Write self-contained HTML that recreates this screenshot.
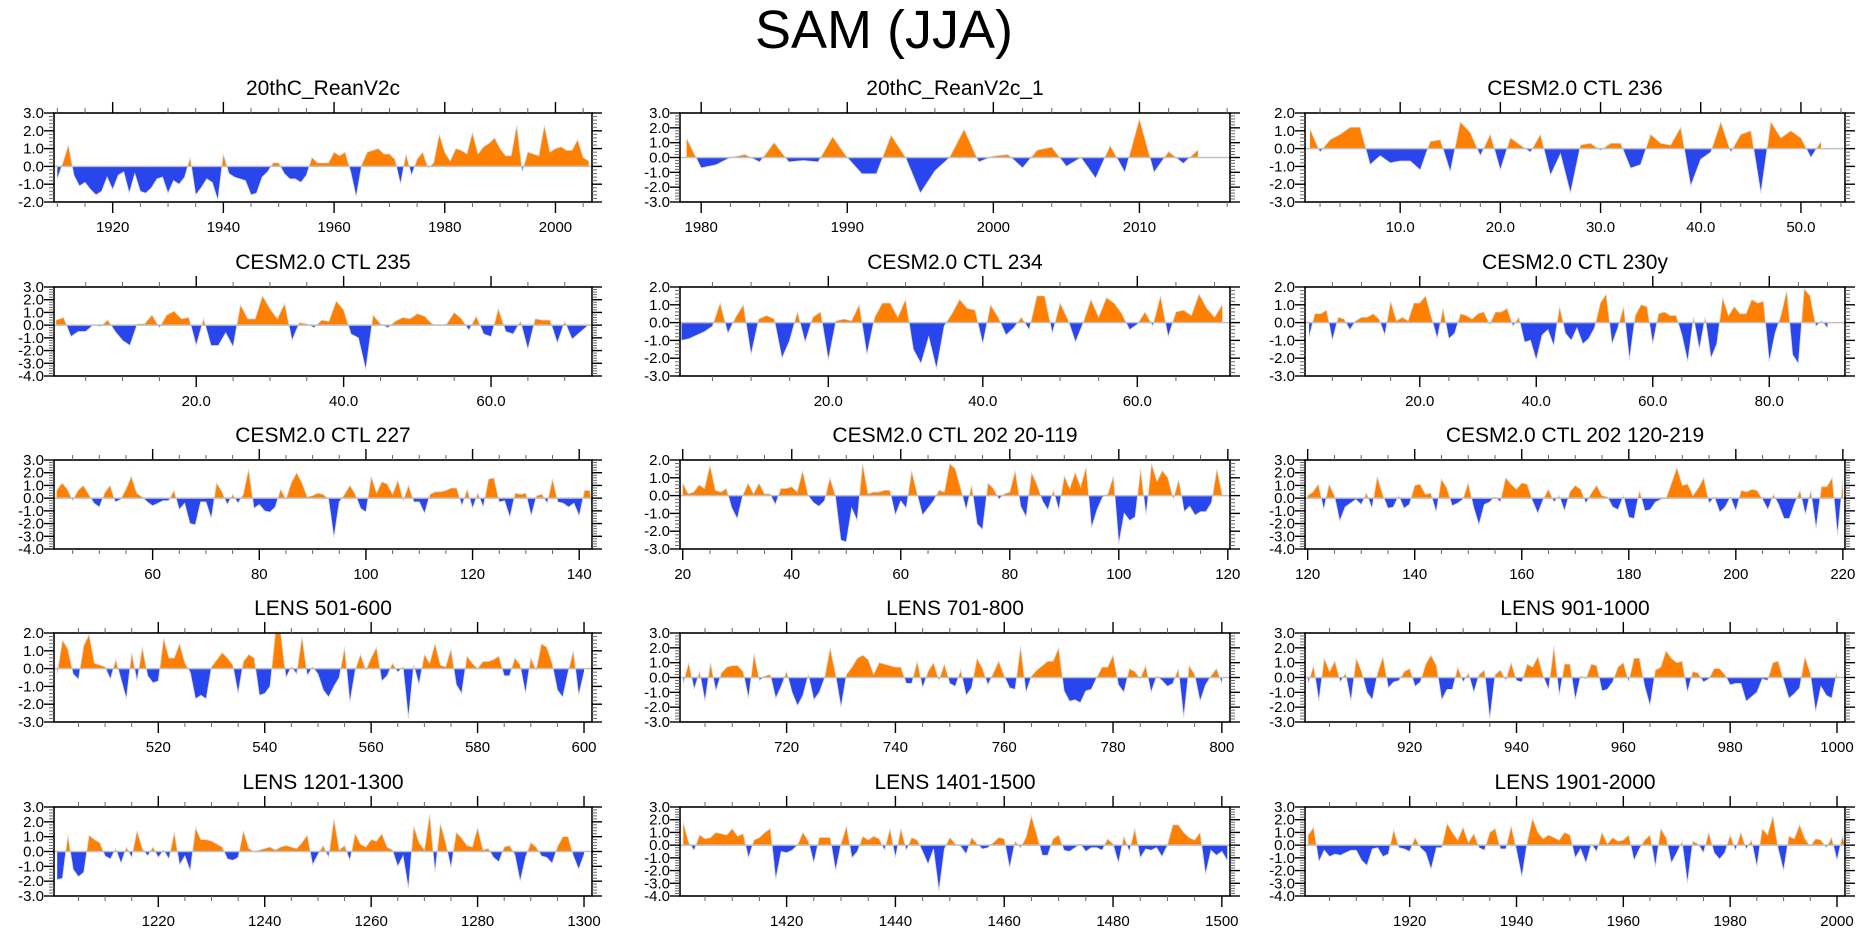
<!DOCTYPE html>
<html><head><meta charset="utf-8"><title>SAM (JJA)</title>
<style>
html,body{margin:0;padding:0;background:#fff;}
svg{display:block;font-family:"Liberation Sans",Arial,sans-serif;}
</style></head>
<body>
<svg id="chart" width="1861" height="936" viewBox="0 0 1861 936" xmlns="http://www.w3.org/2000/svg">
<rect x="0" y="0" width="1861" height="936" fill="#fff"/>
<text x="884" y="48" font-size="54" text-anchor="middle" fill="#000">SAM (JJA)</text>
</svg>
<script>
// ---- data: one array per panel (values), first x value per panel ----
const titles = ["20thC_ReanV2c","20thC_ReanV2c_1","CESM2.0 CTL 236","CESM2.0 CTL 235","CESM2.0 CTL 234","CESM2.0 CTL 230y","CESM2.0 CTL 227","CESM2.0 CTL 202 20-119","CESM2.0 CTL 202 120-219","LENS 501-600","LENS 701-800","LENS 901-1000","LENS 1201-1300","LENS 1401-1500","LENS 1901-2000"];
const xStarts = [1910,1979,1,1,1,1,42,20,120,501,701,901,1201,1401,1901];
const xMins = [1909.4,1978.55,0.5,0.7,0.8,0.3,41.5,19.5,119.5,500.4,700.4,900.4,1200.4,1400.4,1900.4];
const xMaxs = [2006.6,2016.2,54.4,73.7,72,93,142.4,120.4,220.4,601.5,801.5,1001.5,1301.5,1501.5,2001.5];
const yMins = [-2,-3,-3,-4,-3,-3,-4,-3,-4,-3,-3,-3,-3,-4,-4];
const yMaxs = [3,3,2,3,2,2,3,2,3,2,3,3,3,3,3];
const xTickStep = [20,10,10,20,20,20,20,20,20,20,20,20,20,20,20];
const xMinorStep = [5,2,2,5,5,5,5,5,5,5,5,5,5,5,5];
const xTickDecimals = [0,0,1,1,1,1,0,0,0,0,0,0,0,0,0];

const v0 = [-0.7,0.2,1.2,-0.5,-1.1,-0.9,-1.3,-1.6,-1.4,-0.6,-1.3,-0.5,-0.3,-1.5,-0.4,-1.4,-1.5,-1.2,-0.7,-0.6,-1.5,-0.8,-1.0,-0.6,0.5,-1.6,-1.2,-0.7,-0.9,-1.9,0.7,-0.4,-0.6,-0.7,-0.8,-1.6,-1.5,-0.6,-0.3,0.2,0.2,-0.4,-0.7,-0.7,-0.9,-0.5,0.5,0.2,0.2,0.2,0.8,0.6,0.8,-0.3,-1.7,0.1,0.8,0.9,1.0,0.7,0.7,0.4,-1.0,0.7,-0.5,0.4,0.8,-0.1,0.2,1.8,0.8,0.3,1.0,0.9,0.7,1.9,0.7,1.1,1.3,1.6,1.0,0.6,0.6,2.3,-0.3,0.8,0.7,0.6,2.3,0.8,1.0,1.1,0.9,0.9,1.5,0.5,0.3];
const v1 = [1.3,-0.7,-0.5,0.0,0.2,-0.3,1.0,-0.3,-0.2,-0.3,1.4,0.0,-1.1,-1.1,1.5,0.0,-2.4,-0.9,0.0,1.9,-0.3,0.1,0.2,-0.7,0.5,0.7,-0.6,0.0,-1.4,0.8,-1.0,2.6,-1.0,0.4,-0.4,0.5];
const v2 = [1.1,-0.2,0.5,0.8,1.2,1.2,-0.9,-0.4,-0.8,-0.7,-0.7,-1.2,0.4,0.5,-1.3,1.5,0.9,-0.4,0.8,-1.2,0.6,0.2,-0.2,0.8,-1.5,-0.3,-2.5,0.2,0.3,-0.1,0.3,0.3,-1.1,-0.9,0.8,0.3,0.2,1.2,-2.1,-0.6,-0.2,1.5,-0.2,0.8,1.0,-2.5,1.5,0.6,1.0,0.6,-0.5,0.4];
const v3 = [0.4,0.6,-0.9,-0.5,-0.5,0.0,-0.1,0.4,-0.5,-1.2,-1.6,0.1,0.1,0.8,-0.2,0.8,1.1,0.5,0.6,-1.6,0.5,-1.6,-1.6,-0.6,-1.7,1.6,0.5,0.5,2.3,1.3,0.5,1.7,-1.2,0.2,0.1,-0.2,0.4,0.3,1.9,1.2,-0.7,-1.0,-3.5,0.8,0.1,-0.2,0.3,0.6,0.5,0.9,0.7,0.1,-0.05,0.1,1.0,0.5,-0.4,0.7,-0.7,-0.9,1.3,-0.5,-0.7,0.3,-1.9,0.5,0.4,0.4,-1.4,0.3,-1.1,-0.6,-0.1];
const v4 = [-1.0,-0.9,-0.7,-0.5,-0.2,1.1,-0.6,0.3,1.0,-1.8,0.2,0.4,0.2,-2.0,-1.0,0.6,-1.1,0.3,0.6,-2.1,0.1,0.2,0.1,1.0,-1.8,0.3,1.1,1.1,0.3,1.3,-1.5,-2.3,-0.8,-2.6,-0.2,0.5,1.3,0.8,0.7,-1.2,1.0,0.3,-0.7,-0.3,0.3,-0.4,1.5,1.5,-0.6,1.1,0.2,-1.1,0.0,1.3,0.3,1.4,1.1,0.5,-0.4,-0.1,0.6,-0.2,1.5,-0.8,0.6,0.7,0.4,1.6,0.8,0.3,1.0];
const v5 = [-0.8,0.5,0.5,0.7,-1.0,0.3,0.2,-0.4,0.1,0.3,0.3,0.5,0.2,-0.7,1.2,0.1,0.3,0.1,1.1,1.1,1.5,0.3,-0.9,0.8,-0.9,-0.6,0.5,0.4,0.2,0.5,0.6,-0.1,0.6,0.6,0.8,-0.2,0.3,-1.1,-1.0,-2.1,-0.7,-0.4,-1.3,0.9,-0.6,-1.0,-0.3,-1.2,-0.9,-0.3,1.1,1.6,-1.2,-0.3,0.9,-2.1,0.4,1.0,0.9,-1.2,0.5,0.6,0.4,0.4,-0.7,-2.2,0.3,-1.5,0.3,-2.0,-1.2,1.4,0.4,0.9,0.5,0.5,1.3,1.1,1.2,-2.2,-0.6,0.4,1.8,-1.8,-2.3,1.9,1.5,-0.2,0.1,-0.3];
const v6 = [0.6,1.2,0.7,-0.2,0.6,1.0,0.3,-0.4,-0.7,0.4,1.0,-0.3,-0.1,0.7,1.7,0.4,0.1,-0.3,-0.6,-0.4,-0.2,-0.2,0.6,-0.9,-0.4,-2.0,-2.1,-0.3,-0.3,-1.6,1.2,0.5,-0.5,0.3,-0.4,0.3,2.3,-0.8,-0.5,-1.0,-1.1,-0.7,0.7,-0.1,1.2,2.0,1.2,0.1,0.2,0.4,0.3,-0.1,-3.1,-0.3,0.3,1.0,0.3,-0.8,-1.1,1.7,0.4,1.3,1.1,0.3,1.4,-0.2,1.0,-0.3,-0.3,-1.2,0.3,0.5,0.5,0.6,0.8,0.8,-0.6,0.7,-0.8,0.4,-0.7,1.5,1.6,-0.3,-0.2,-1.5,0.4,0.3,0.4,-1.4,0.2,0.3,-0.4,1.5,-0.3,-0.4,-0.7,-0.4,-1.4,0.6,0.6,-3.3,0.2,-1.0,0.6,1.0,-0.1];
const v7 = [0.7,0.1,0.2,0.6,0.4,1.7,0.3,0.2,0.4,-0.7,-1.3,0.0,0.7,0.1,0.7,0.1,0.1,-0.5,0.4,0.4,0.5,0.2,1.4,0.0,-0.4,-0.6,-0.3,1.0,0.0,-2.5,-2.6,-0.7,-1.4,1.8,0.1,0.2,0.2,0.3,0.3,-1.1,-0.3,-0.7,1.4,0.1,-1.1,-0.7,-0.3,0.3,0.2,1.8,1.5,0.4,-0.8,0.6,-1.6,-1.9,0.7,0.4,-0.2,0.1,0.2,1.4,-0.6,-1.2,1.3,0.6,-0.3,-0.8,0.3,-0.8,1.1,0.4,1.3,0.5,1.6,-1.8,-0.8,-0.1,0.1,1.1,-2.7,-1.0,-1.4,-1.2,1.5,-1.1,1.8,0.8,1.4,1.0,-0.2,0.9,-0.9,-0.6,-1.1,-0.9,-0.9,-0.4,1.5,0.0];
const v8 = [0.2,0.5,1.1,-0.9,1.1,0.2,-1.8,-0.7,-0.4,-0.1,-0.5,0.4,-0.8,1.7,0.3,-0.8,-0.7,0.2,-0.8,-0.5,1.0,1.1,0.3,0.4,-1.1,1.5,0.8,-0.6,-0.4,-0.1,1.2,-0.7,-2.1,-0.5,-0.3,0.1,-0.3,1.6,1.1,0.7,1.2,1.1,-0.2,-1.2,-0.1,0.7,-0.3,0.2,-1.0,0.5,1.0,0.7,-0.4,0.4,1.0,0.2,0.1,-0.7,-0.9,0.2,-1.5,-1.6,0.6,-1.0,-0.9,-0.3,-0.1,0.0,1.2,2.4,1.0,1.1,0.2,0.8,1.6,-0.4,0.1,-1.1,-0.7,0.1,-1.0,0.6,0.5,0.7,0.6,-0.1,-0.9,0.3,-0.5,-1.6,-1.6,-0.4,0.6,-1.3,0.6,-2.4,0.9,0.9,1.6,-2.9,1.4];
const v9 = [-0.3,1.6,1.1,-0.3,-0.6,1.3,1.9,0.3,0.2,0.1,-0.6,0.5,-0.6,-1.7,0.9,-0.7,1.2,-0.4,-0.8,-0.7,1.7,0.6,0.6,1.4,0.3,-0.2,-1.7,-1.5,-1.7,0.1,0.5,0.9,0.6,0.2,-1.4,0.4,0.8,0.6,-1.5,-1.4,-1.0,2.0,2.0,-0.5,0.1,-0.3,1.8,-0.4,0.1,-0.3,-1.2,-1.6,-1.0,-0.5,1.2,-1.9,-0.1,0.8,-0.1,0.6,1.2,-0.7,-0.4,0.3,-0.2,0.1,-2.8,0.2,-0.9,0.8,0.3,1.4,0.2,0.1,1.1,-0.9,-1.4,0.7,0.3,0.0,0.4,0.4,0.5,0.7,-0.4,-0.4,0.6,0.2,-1.4,0.6,-0.1,1.4,1.2,0.3,-1.2,-1.6,-0.2,1.0,-1.5,-0.2];
const v10 = [-0.4,1.0,-0.8,0.4,-1.6,1.0,-0.9,0.3,0.7,0.8,0.8,0.4,-1.4,1.6,-0.2,0.1,0.2,-1.4,-0.6,0.4,-1.0,-1.9,-1.2,0.2,-1.5,-1.0,0.0,2.0,0.2,-2.0,0.2,0.7,1.3,1.5,1.2,0.2,1.0,0.9,0.8,0.7,0.7,-0.4,-0.4,1.1,-0.7,0.4,1.0,-0.2,0.9,-0.4,-0.6,0.5,-1.2,-0.7,1.3,0.6,-0.5,0.3,1.1,0.1,-0.7,-0.8,2.1,-1.0,0.1,0.5,0.8,1.1,1.1,2.0,-0.9,-1.6,-1.5,-1.7,-0.9,-0.8,0.0,0.7,0.7,1.5,-0.5,-1.0,0.6,0.4,-0.1,0.8,-1.0,0.1,-0.2,-0.6,-0.4,0.6,-2.7,0.8,0.2,-1.6,-0.5,0.1,0.6,-0.4];
const v11 = [-0.4,0.8,-1.6,1.3,0.4,1.1,-0.3,0.3,-1.6,1.3,0.4,-1.0,-1.5,0.3,1.4,-0.7,-0.3,-0.2,0.4,0.6,-0.6,-0.3,0.9,1.5,0.8,-1.5,-0.8,-0.8,0.7,-0.3,0.3,-1.0,0.2,0.5,-2.8,0.2,0.5,-0.2,1.0,-0.2,-0.3,0.9,0.7,1.4,0.1,-0.8,2.1,-1.2,0.9,0.9,-1.5,0.1,-0.1,0.9,0.8,-0.9,-0.8,-0.3,0.7,1.0,-0.3,1.3,1.3,-0.6,-1.9,0.5,0.7,1.8,1.3,1.0,1.1,-1.0,0.4,0.3,-0.3,-0.1,0.6,0.6,0.2,-0.5,-0.4,-0.4,-1.6,-1.3,-1.0,-0.1,-0.2,1.0,1.1,-0.2,-1.4,-1.1,-0.7,1.4,0.3,-2.3,-0.6,-1.2,-1.4,0.4];
const v12 = [-1.9,-1.8,1.1,-1.2,-1.7,-1.4,1.1,0.8,0.6,-0.3,-0.5,0.2,-0.8,0.3,-0.4,1.4,0.2,-0.3,0.3,-0.4,0.1,-0.5,1.3,-0.9,-0.3,-1.3,1.6,0.8,0.8,0.7,0.5,0.3,-0.5,-0.6,-0.4,1.4,0.2,0.0,0.1,0.2,0.3,0.1,0.3,0.4,0.3,0.2,0.6,1.1,-0.9,-0.2,0.4,-0.4,2.2,0.1,0.4,-0.6,1.2,0.5,0.3,0.8,0.7,1.2,0.3,0.1,-1.0,-0.3,-2.5,1.7,0.6,0.1,2.5,-1.4,1.9,0.6,-1.1,1.3,0.9,0.4,0.3,1.6,0.1,0.2,-0.4,-0.7,0.3,0.4,-0.2,-2.0,-0.4,0.6,0.3,-0.3,-0.4,-0.8,0.3,1.0,1.0,-0.3,-1.2,-0.2];
const v13 = [1.8,0.2,-0.4,0.8,0.5,0.6,1.0,0.9,0.8,1.3,0.7,0.9,-1.0,0.4,0.6,1.0,1.3,-2.7,-0.5,-0.6,-0.4,0.0,1.0,0.3,-1.4,0.6,0.6,0.6,-2.0,0.1,1.5,-1.0,-0.5,0.7,0.4,0.7,0.5,-0.4,1.3,-1.0,1.3,-0.4,0.6,0.4,-0.5,-1.5,-0.3,-3.6,-0.3,0.6,0.1,-0.1,-0.7,0.6,0.1,-0.3,-0.2,0.2,0.6,0.5,-1.8,0.3,-0.2,0.6,2.3,0.8,-0.8,-0.8,0.5,0.8,-0.4,-0.5,-0.2,0.1,-0.5,-0.2,-0.2,-0.4,0.5,0.1,-1.4,0.7,-0.5,1.3,-1.0,-0.3,-0.4,-0.2,-0.9,0.0,1.6,1.6,1.0,0.6,0.4,1.0,-2.3,-0.4,-0.8,-0.5,-1.2];
const v14 = [0.8,1.4,-1.3,-0.4,-0.9,-0.7,-0.8,-0.6,-0.4,-0.4,-1.2,-1.6,-0.3,-0.2,-0.9,-0.7,1.2,-0.2,-0.3,-0.5,0.6,-0.2,-0.6,-1.9,-0.2,-0.2,1.7,1.0,0.4,1.4,0.2,0.9,-0.2,-0.4,1.0,1.3,-0.3,-0.3,1.5,-0.4,-2.5,0.2,2.1,1.0,0.5,0.8,0.6,0.4,1.0,0.8,-1.0,-0.3,-1.4,0.1,-0.5,1.0,0.1,0.6,0.3,0.4,0.8,-1.2,-0.3,0.4,0.8,-1.7,1.3,0.6,-1.4,-0.6,0.3,-3.0,0.3,0.1,-0.6,1.0,-0.6,-1.1,-0.6,0.8,-0.4,1.0,-0.3,0.4,-1.7,1.3,0.8,2.3,-0.3,-2.0,0.7,0.5,1.6,0.5,-0.1,0.5,0.4,-0.2,0.6,-1.2,0.7,-0.6];
const seriesValues = [v0,v1,v2,v3,v4,v5,v6,v7,v8,v9,v10,v11,v12,v13,v14];

// ---- layout ----
const colL = [54,680,1305], colR = [592,1230,1845];
const rowT = [113,287,460,633,807];
const boxH = 89;
const NS = "http://www.w3.org/2000/svg";
const svg = document.getElementById("chart");
function mk(tag, attrs, parent){ const e=document.createElementNS(NS,tag); for(const k in attrs) e.setAttribute(k,attrs[k]); (parent||svg).appendChild(e); return e; }
const defs = mk("defs",{});

for (let p=0;p<15;p++){
  const r=Math.floor(p/3), c=p%3;
  const L=colL[c], R=colR[c], T=rowT[r], B=T+boxH;
  const xmin=xMins[p], xmax=xMaxs[p], ymin=yMins[p], ymax=yMaxs[p];
  const sx = x => L + (x-xmin)/(xmax-xmin)*(R-L);
  const sy = y => B - (y-ymin)/(ymax-ymin)*(B-T);
  const g = mk("g",{});
  
  
  const cp = mk("clipPath",{id:"cp"+p},defs);
  mk("rect",{x:L,y:T,width:R-L,height:B-T},cp);

  const t = mk("text",{x:(L+R)/2,y:T-18,"font-size":21,"text-anchor":"middle",fill:"#000"},g);
  t.textContent = titles[p];
  
  

  const vals = seriesValues[p], x0 = xStarts[p];
  const pts = vals.map((v,i)=>[x0+i, v]);
  const y0 = sy(0);
  const posPts=[], negPts=[];
  for (let i=0;i<pts.length;i++){
    const [x,v]=pts[i];
    if (i>0){
      const [xp,vp]=pts[i-1];
      if ((vp>0&&v<0)||(vp<0&&v>0)){
        const xc = xp + (x-xp)*vp/(vp-v);
        posPts.push([xc,0]); negPts.push([xc,0]);
      }
    }
    posPts.push([x,Math.max(v,0)]); negPts.push([x,Math.min(v,0)]);
  }
  const toPath = arr => { let d="M"+sx(arr[0][0]).toFixed(2)+","+y0.toFixed(2); arr.forEach(q=>{d+="L"+sx(q[0]).toFixed(2)+","+sy(q[1]).toFixed(2);}); d+="L"+sx(arr[arr.length-1][0]).toFixed(2)+","+y0.toFixed(2)+"Z"; return d; };
  const fp = mk("path",{d:toPath(posPts),fill:"#ff8000","clip-path":"url(#cp"+p+")"},g);
  
  
  const fn = mk("path",{d:toPath(negPts),fill:"#2946ee","clip-path":"url(#cp"+p+")"},g);
  
  
  let d=""; pts.forEach((q,i)=>{d+=(i?"L":"M")+sx(q[0]).toFixed(2)+","+sy(q[1]).toFixed(2);});
  mk("path",{d:d,fill:"none",stroke:"#d8d8d8","stroke-width":0.8,"clip-path":"url(#cp"+p+")"},g);
  const zl = mk("line",{x1:L,x2:R,y1:y0,y2:y0,stroke:"#c0c0c0","stroke-width":1.5},g);
  
  

  const bx = mk("rect",{x:L,y:T,width:R-L,height:B-T,fill:"none",stroke:"#000","stroke-width":1.6},g);
  
  

  for (let yv=ymin; yv<=ymax+1e-9; yv+=0.2){
    const yy = sy(yv);
    const major = Math.abs(yv-Math.round(yv))<1e-6;
    const len = major?10:5;
    mk("line",{x1:L-len,x2:L,y1:yy,y2:yy,stroke:major?"#000":"#666","stroke-width":major?1.4:1},g);
    mk("line",{x1:R,x2:R+len,y1:yy,y2:yy,stroke:major?"#000":"#666","stroke-width":major?1.4:1},g);
    if (major){
      const lab = mk("text",{x:L-10,y:yy+5,"font-size":15,"text-anchor":"end",fill:"#000"},g);
      lab.textContent = Math.round(yv).toFixed(1);
      
      
    }
  }
  const ms = xMinorStep[p], Ms = xTickStep[p];
  for (let xv=Math.ceil(xmin/ms)*ms; xv<=xmax+1e-9; xv+=ms){
    const xx = sx(xv);
    const major = Math.abs(xv/Ms-Math.round(xv/Ms))<1e-6;
    const len = major?11:5;
    mk("line",{x1:xx,x2:xx,y1:T-len,y2:T,stroke:major?"#000":"#666","stroke-width":major?1.4:1},g);
    mk("line",{x1:xx,x2:xx,y1:B,y2:B+len,stroke:major?"#000":"#666","stroke-width":major?1.4:1},g);
    if (major){
      const lab = mk("text",{x:xx,y:B+30,"font-size":15,"text-anchor":"middle",fill:"#000"},g);
      lab.textContent = xv.toFixed(xTickDecimals[p]);
      
      
    }
  }
}
</script>
</body></html>
